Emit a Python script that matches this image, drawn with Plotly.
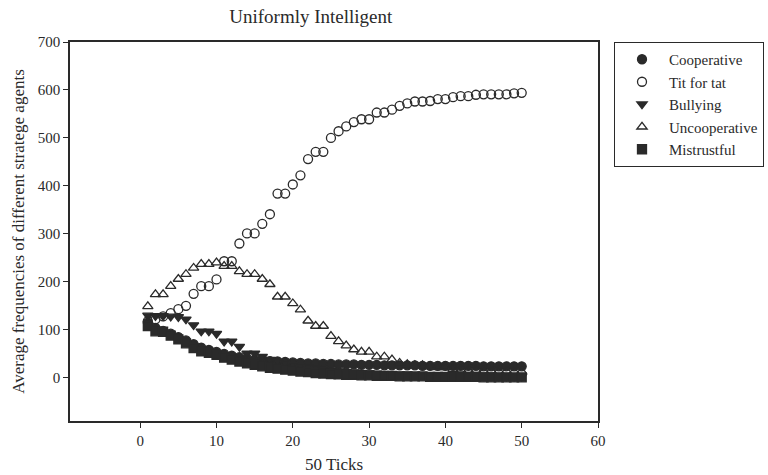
import plotly.graph_objects as go

ticks = list(range(1, 51))

cooperative = [115, 104, 98, 92, 85, 78, 70, 63, 58, 54,
               50, 46, 43, 40, 38, 36, 35, 34, 33, 32,
               31, 30, 30, 29, 29, 28, 28, 28, 27, 27,
               27, 26, 26, 26, 26, 26, 25, 25, 25, 25,
               25, 25, 25, 25, 24, 24, 24, 24, 24, 24]

tit_for_tat = [118, 122, 128, 135, 143, 150, 175, 191, 191, 205,
               243, 243, 280, 301, 301, 321, 341, 384, 384, 403,
               422, 456, 471, 471, 500, 514, 524, 533, 539, 539,
               553, 553, 559, 567, 572, 576, 576, 577, 581, 581,
               585, 587, 587, 590, 591, 591, 591, 591, 593, 594]

bullying = [130, 129, 129, 128, 127, 122, 110, 97, 97, 92,
            76, 76, 65, 51, 51, 44, 38, 33, 30, 27,
            24, 22, 20, 18, 16, 14, 13, 12, 11, 10,
            9, 8, 8, 7, 7, 6, 6, 5, 5, 5,
            5, 4, 4, 4, 4, 4, 3, 3, 3, 3]

uncooperative = [149, 174, 174, 191, 206, 216, 229, 237, 237, 240,
                 233, 233, 222, 216, 216, 206, 195, 169, 169, 155,
                 142, 119, 108, 108, 87, 76, 67, 59, 54, 54,
                 44, 44, 38, 31, 28, 26, 26, 24, 22, 22,
                 18, 17, 16, 16, 15, 15, 14, 14, 13, 13]

mistrustful = [108, 97, 96, 88, 80, 72, 62, 55, 52, 48,
               42, 38, 34, 30, 27, 24, 21, 19, 17, 15,
               13, 12, 10, 9, 8, 7, 6, 6, 5, 5,
               4, 4, 4, 3, 3, 3, 3, 2, 2, 2,
               2, 2, 2, 2, 1, 1, 1, 1, 1, 1]

x_tick_vals = [0, 10, 20, 30, 40, 50, 60]
y_tick_vals = [0, 100, 200, 300, 400, 500, 600, 700]

INK = "#2a2a2a"
FONT = "Liberation Serif"

series = [
    ("Cooperative", cooperative, "circle"),
    ("Tit for tat", tit_for_tat, "circle-open"),
    ("Bullying", bullying, "triangle-down"),
    ("Uncooperative", uncooperative, "triangle-up-open"),
    ("Mistrustful", mistrustful, "square"),
]

fig = go.Figure()
for name, vals, sym in series:
    fig.add_trace(go.Scatter(
        x=ticks, y=vals, mode="markers", name=name,
        marker=dict(symbol=sym, size=9, color=INK,
                    line=dict(color=INK, width=1.3)),
    ))

axis_common = dict(
    showline=True, linecolor=INK, linewidth=1.5, mirror=True,
    ticks="outside", ticklen=5, tickwidth=1.3, tickcolor=INK,
    showgrid=False, zeroline=False,
    tickfont=dict(family=FONT, size=15, color=INK),
)

fig.update_layout(
    width=768, height=475,
    paper_bgcolor="white", plot_bgcolor="white",
    margin=dict(l=70, r=170, t=42, b=54, autoexpand=False),
    title=dict(text="Uniformly Intelligent", x=0.456, xref="paper", xanchor="center",
               y=1 - 16 / 475, yanchor="middle",
               font=dict(family=FONT, size=19, color=INK)),
    xaxis=dict(range=[-9.2, 60], tickvals=x_tick_vals,
               title=dict(text="50 Ticks", standoff=10,
                          font=dict(family=FONT, size=17, color=INK)),
               **axis_common),
    yaxis=dict(range=[-90, 700], tickvals=y_tick_vals,
               title=dict(text="Average frequencies of different stratege agents", standoff=9,
                          font=dict(family=FONT, size=17, color=INK)),
               **axis_common),
    legend=dict(x=(614 - 70) / 528, y=1.0, xanchor="left", yanchor="top",
                bordercolor=INK, borderwidth=1, bgcolor="white",
                font=dict(family=FONT, size=15, color=INK),
                tracegroupgap=0, itemsizing="trace", itemwidth=44),
    showlegend=True,
)

fig.write_html("out.html", config={"displayModeBar": False},
               post_script="document.body.style.margin='0';")
